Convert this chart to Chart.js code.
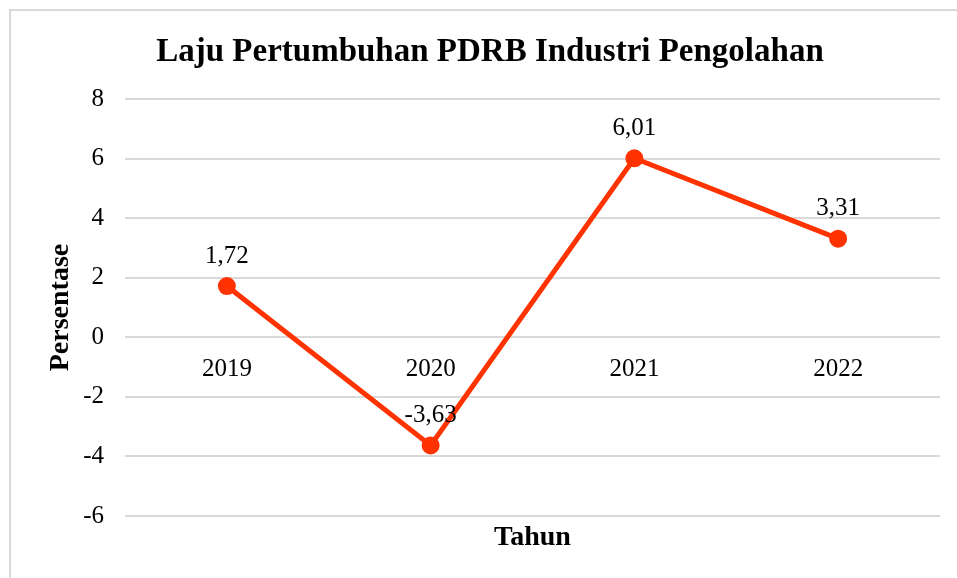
<!DOCTYPE html>
<html>
<head>
<meta charset="utf-8">
<script src="https://cdn.jsdelivr.net/npm/chart.js@4.4.0/dist/chart.umd.min.js"></script>
<style>
    html, body { margin: 0; padding: 0; background: #fff; }
    #wrap { position: relative; width: 957px; height: 578px; overflow: hidden; }
    #frame { position: absolute; left: 9px; top: 9px; width: 1200px; height: 800px;
             border-top: 2px solid #d9d9d9; border-left: 2px solid #d9d9d9; }
    canvas { position: absolute; left: 0; top: 0; }
</style>
</head>
<body>
<div id="wrap">
    <div id="frame"></div>
    <canvas id="chart" width="957" height="578"></canvas>
</div>
<script>
// Data
const years = ['2019', '2020', '2021', '2022'];
const growth = [1.72, -3.63, 6.01, 3.31];
const yTicks = [-6, -4, -2, 0, 2, 4, 6, 8];

const serif = "'Liberation Serif', 'Times New Roman', serif";
const lineColor = '#ff3300';

// Value labels above each point, comma decimals
const valueLabels = {
    id: 'valueLabels',
    afterDatasetsDraw(chart) {
        const ctx = chart.ctx;
        const meta = chart.getDatasetMeta(0);
        ctx.save();
        ctx.font = '25px ' + serif;
        ctx.fillStyle = '#000';
        ctx.textAlign = 'center';
        ctx.textBaseline = 'middle';
        meta.data.forEach((pt, i) => {
            const txt = growth[i].toFixed(2).replace('.', ',');
            ctx.fillText(txt, pt.x, pt.y - 30);
        });
        ctx.restore();
    }
};

// X axis title, centred under the plot area (axis itself sits on the 0 line)
const xTitle = {
    id: 'xTitle',
    afterDraw(chart) {
        const ctx = chart.ctx;
        const area = chart.chartArea;
        ctx.save();
        ctx.font = 'bold 28px ' + serif;
        ctx.fillStyle = '#000';
        ctx.textAlign = 'center';
        ctx.textBaseline = 'middle';
        ctx.fillText('Tahun', (area.left + area.right) / 2, 538);
        ctx.restore();
    }
};

new Chart(document.getElementById('chart').getContext('2d'), {
    type: 'line',
    data: {
        labels: years,
        datasets: [{
            data: growth,
            borderColor: lineColor,
            backgroundColor: lineColor,
            borderWidth: 5,
            pointRadius: 6.5,
            pointHoverRadius: 6.5,
            tension: 0
        }]
    },
    options: {
        responsive: false,
        animation: false,
        layout: { padding: { left: 40, right: 17, top: 0, bottom: 62 } },
        plugins: {
            legend: { display: false },
            tooltip: { enabled: false },
            title: {
                display: true,
                text: 'Laju Pertumbuhan PDRB Industri Pengolahan',
                color: '#000',
                font: { family: serif, size: 33, weight: 'bold', lineHeight: 1.2 },
                padding: { top: 33, bottom: 26.4 }
            }
        },
        scales: {
            x: {
                position: { y: 0 },
                offset: true,
                grid: { display: false },
                border: { display: false },
                ticks: {
                    color: '#000',
                    font: { family: serif, size: 25 },
                    padding: 9
                }
            },
            y: {
                min: -6,
                max: 8,
                afterBuildTicks: scale => { scale.ticks = yTicks.map(v => ({ value: v })); },
                afterFit: scale => { scale.width = 85; },
                grid: { color: '#d9d9d9', lineWidth: 2, drawTicks: false },
                border: { display: false },
                ticks: {
                    color: '#000',
                    font: { family: serif, size: 25 },
                    padding: 21
                },
                title: {
                    display: true,
                    text: 'Persentase',
                    color: '#000',
                    font: { family: serif, size: 28, weight: 'bold', lineHeight: 1.2 },
                    padding: { top: 3.7, bottom: 0 }
                }
            }
        }
    },
    plugins: [valueLabels, xTitle]
});
</script>
</body>
</html>
